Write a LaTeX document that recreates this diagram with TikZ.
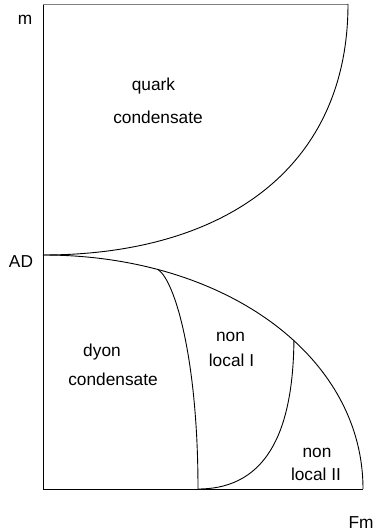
\documentclass[tikz,border=0pt]{standalone}
\usepackage{fontspec}
\setmainfont{Liberation Sans}
\usepackage{tikz}

\begin{document}
\begin{tikzpicture}[x=1pt,y=1pt,line width=0.9pt,
  lbl/.style={anchor=base,inner sep=0pt,font=\fontsize{17.3}{20}\selectfont}]
  \useasboundingbox (-43,-42) rectangle (331,489);

  %corners
  \coordinate (O) at (0,0);
  \coordinate (top) at (0,485);
  \coordinate (topend) at (305,485);
  \coordinate (AD) at (0,234);
  \coordinate (end) at (320,0);
  \coordinate (Q) at (155,0);

  %axes
  \draw (top) -- (O) -- (end);
  \draw[gray] (top) -- (topend);

  %upper boundary
  \draw (topend) .. controls (305,320) and (180,234) .. (AD);

  %lower boundary
  \draw (AD) .. controls (182,234) and (320,133) .. (end)
    coordinate[pos=0.225] (P1) coordinate[pos=0.57] (P2);

  %inner boundaries
  \draw (P1) .. controls (132,208) and (155,130) .. (Q);
  \draw (Q) .. controls (228,0) and (250,65) .. (P2);

  %axis labels
  \node[lbl] (m) at (-18,464) {m};
  \node[lbl] (ad) at (-22,221) {AD};
  \node[lbl] (fm) at (318,-39) {Fm};

  %phases
  \node[lbl] (quark) at (110.5,398) {quark};
  \node[lbl] (cond1) at (115,365) {condensate};
  \node[lbl] (dyon) at (59,132) {dyon};
  \node[lbl] (cond2) at (70,103) {condensate};
  \node[lbl] (non1) at (187.5,147) {non};
  \node[lbl] (loc1) at (188.5,122) {local I};
  \node[lbl] (non2) at (274,32) {non};
  \node[lbl] (loc2) at (273,9) {local II};
\end{tikzpicture}
\end{document}
